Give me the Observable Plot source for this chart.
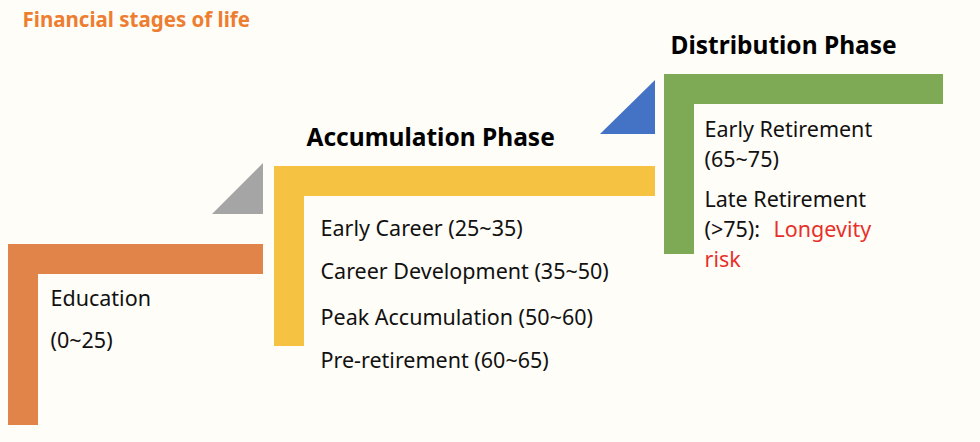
<!DOCTYPE html>
<html><head><meta charset="utf-8">
<script src="https://cdn.jsdelivr.net/npm/d3@7"></script>
<script src="https://cdn.jsdelivr.net/npm/@observablehq/plot@0.6"></script>
<style>body{margin:0;background:#FFFDF8;font-family:"Noto Sans",sans-serif}</style>
</head><body><div id="c"></div>
<script>
// diagram units (0..980 across, 0..442 down)
const bars = [
  {x1:8,x2:38,y1:244,y2:425,c:"#E0844A"},{x1:8,x2:263,y1:244,y2:274,c:"#E0844A"},
  {x1:274,x2:655,y1:166,y2:196,c:"#F5C242"},{x1:274,x2:304,y1:166,y2:346,c:"#F5C242"},
  {x1:664,x2:943,y1:74,y2:104,c:"#7FAA55"},{x1:664,x2:694,y1:74,y2:254,c:"#7FAA55"}
];
const grayTri = [{x:212,b:214,t:214},{x:263,b:214,t:163}];
const blueTri = [{x:600,b:134,t:134},{x:655,b:134,t:80}];
const headings = [{x:306,y:138,t:"Accumulation Phase"},{x:670,y:46,t:"Distribution Phase"}];
const labels = [
  {x:50,y:299,t:"Education",c:"#111"},{x:50,y:341,t:"(0~25)",c:"#111"},
  {x:320,y:229,t:"Early Career (25~35)",c:"#111"},
  {x:320,y:272,t:"Career Development (35~50)",c:"#111"},
  {x:320,y:318,t:"Peak Accumulation (50~60)",c:"#111"},
  {x:320,y:361,t:"Pre-retirement (60~65)",c:"#111"},
  {x:704,y:130,t:"Early Retirement",c:"#111"},{x:704,y:160,t:"(65~75)",c:"#111"},
  {x:704,y:200,t:"Late Retirement",c:"#111"},{x:704,y:230,t:"(>75):",c:"#111"},
  {x:773,y:230,t:"Longevity",c:"#E8302A"},{x:704,y:260,t:"risk",c:"#E8302A"}
];
const title = [{x:22,y:20,t:"Financial stages of life"}];
const p = Plot.plot({
  width:980,height:442,margin:0,
  x:{domain:[0,980],axis:null},y:{domain:[442,0],axis:null},
  style:{background:"#FFFDF8",fontFamily:"Noto Sans"},
  marks:[
    Plot.rect(bars,{x1:"x1",x2:"x2",y1:"y1",y2:"y2",fill:"c"}),
    Plot.areaY(grayTri,{x:"x",y1:"b",y2:"t",fill:"#A5A5A5"}),
    Plot.areaY(blueTri,{x:"x",y1:"b",y2:"t",fill:"#4472C4"}),
    Plot.text(headings,{x:"x",y:"y",text:"t",textAnchor:"start",fontSize:24.5,fontWeight:"bold",fill:"#000"}),
    Plot.text(labels,{x:"x",y:"y",text:"t",textAnchor:"start",fontSize:21.5,fill:"c"}),
    Plot.text(title,{x:"x",y:"y",text:"t",textAnchor:"start",fontSize:20.5,fontWeight:"bold",fill:"#ED7D31"})
  ]
});
document.getElementById("c").append(p);
</script></body></html>
